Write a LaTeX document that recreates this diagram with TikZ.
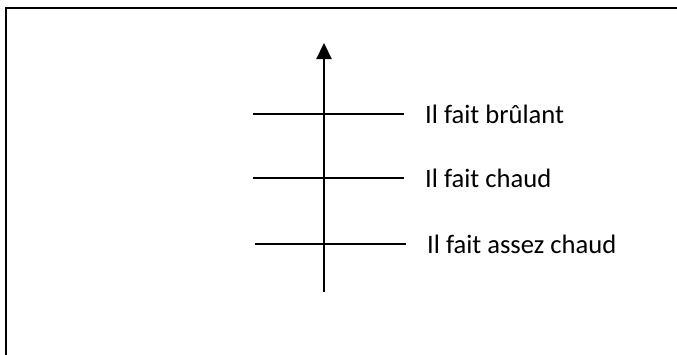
\documentclass[tikz,border=0pt]{standalone}
\usepackage{fontspec}
\setmainfont{Carlito}
\usetikzlibrary{arrows.meta,calc}

\begin{document}
\begin{tikzpicture}[x=1pt,y=-1pt]
	\tikzset{level/.style = {line width=1.5pt}}
	\tikzset{lab/.style = {anchor=west,inner sep=0pt,font=\fontsize{26.6}{30}\selectfont}}
	\tikzset{axis/.style={line width=2.2pt,-{Triangle[width=15pt,length=16pt]}}}

	\clip (0,0) rectangle (677,354);
	\draw[line width=2pt] (6,8) rectangle (700,380);

	% points
	\coordinate (bot) at (324,292);
	\coordinate (top) at (324,43);
	\coordinate (l1a) at (253,114);
	\coordinate (l1b) at (404,114);
	\coordinate (l2a) at (253,178);
	\coordinate (l2b) at (404,178);
	\coordinate (l3a) at (255,244);
	\coordinate (l3b) at (406,244);

	% labels
	\node[lab] (t1) at (425,114) {Il fait brûlant};
	\node[lab] (t2) at (425,178) {Il fait chaud};
	\node[lab] (t3) at (427,244) {Il fait assez chaud};

	% edges
	\draw[level] (l1a) -- (l1b);
	\draw[level] (l2a) -- (l2b);
	\draw[level] (l3a) -- (l3b);
	\draw[axis] (bot) -- (top);
\end{tikzpicture}
\end{document}
